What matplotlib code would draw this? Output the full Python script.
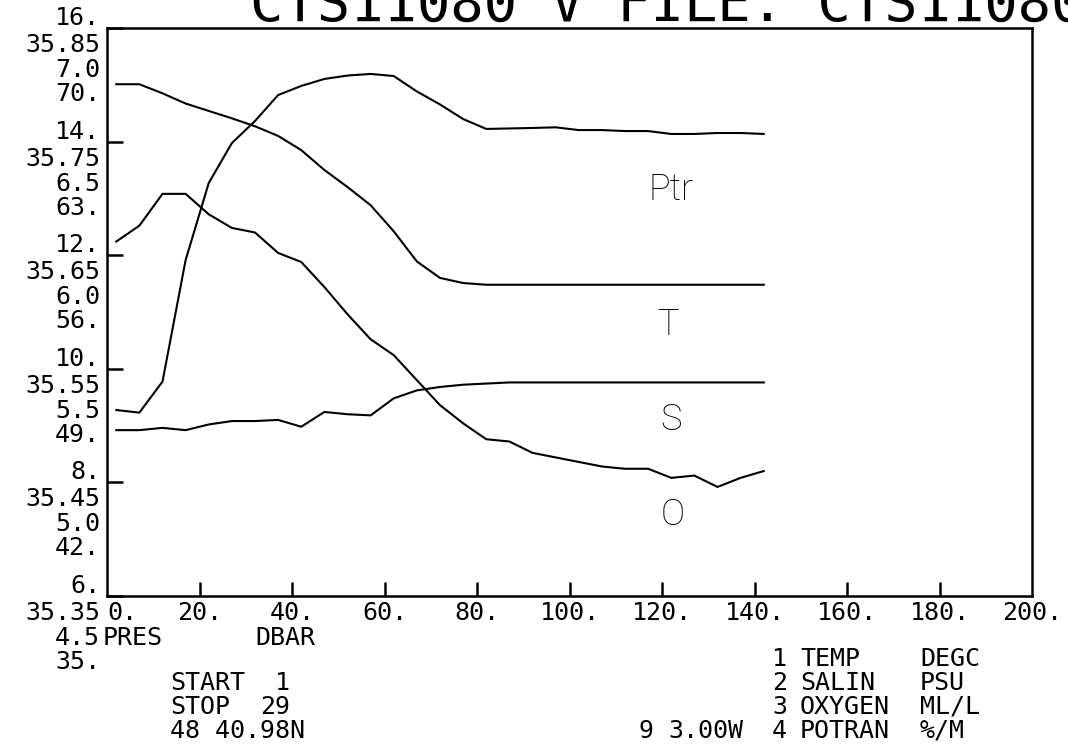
import matplotlib
matplotlib.use("Agg")
import matplotlib.pyplot as plt

W, H = 1068, 747
DPI = 100
MONO = "DejaVu Sans Mono"

# CTD cast, samples every 5 dbar
pres = [2, 7, 12, 17, 22, 27, 32, 37, 42, 47, 52, 57, 62, 67, 72,
        77, 82, 87, 92, 97, 102, 107, 112, 117, 122, 127, 132, 137, 142]
temp = [15.01, 15.01, 14.85, 14.67, 14.54, 14.41, 14.27, 14.10, 13.85, 13.50,
        13.20, 12.88, 12.42, 11.89, 11.60, 11.51, 11.48, 11.48, 11.48, 11.48,
        11.48, 11.48, 11.48, 11.48, 11.48, 11.48, 11.48, 11.48, 11.48]
salin = [35.496, 35.496, 35.498, 35.496, 35.501, 35.504, 35.504, 35.505, 35.499, 35.512,
         35.510, 35.509, 35.524, 35.531, 35.534, 35.536, 35.537, 35.538, 35.538, 35.538,
         35.538, 35.538, 35.538, 35.538, 35.538, 35.538, 35.538, 35.538, 35.538]
oxygen = [6.06, 6.13, 6.27, 6.27, 6.18, 6.12, 6.10, 6.01, 5.97, 5.86,
          5.74, 5.63, 5.56, 5.45, 5.34, 5.26, 5.19, 5.18, 5.13, 5.11,
          5.09, 5.07, 5.06, 5.06, 5.02, 5.03, 4.98, 5.02, 5.05]
potran = [46.46, 46.30, 48.21, 55.70, 60.45, 62.91, 64.27, 65.87, 66.43, 66.86,
          67.07, 67.17, 67.04, 66.09, 65.29, 64.39, 63.78, 63.81, 63.84, 63.88,
          63.71, 63.71, 63.65, 63.65, 63.47, 63.47, 63.53, 63.53, 63.47]

# axis ranges and the stacked scale labels at each major tick
t_ticks = [6, 8, 10, 12, 14, 16]
t_labels = ["6.", "8.", "10.", "12.", "14.", "16."]
s_labels = ["35.35", "35.45", "35.55", "35.65", "35.75", "35.85"]
o_labels = ["4.5", "5.0", "5.5", "6.0", "6.5", "7.0"]
p_labels = ["35.", "42.", "49.", "56.", "63.", "70."]
x_ticks = [20, 40, 60, 80, 100, 120, 140, 160, 180]
x_labels = ["0.", "20.", "40.", "60.", "80.", "100.", "120.", "140.", "160.", "180.", "200."]
x_label_pos = [0, 20, 40, 60, 80, 100, 120, 140, 160, 180, 200]


def fx(px):
    return px / W


def fy(py):
    return 1 - py / H


fig = plt.figure(figsize=(W / DPI, H / DPI), dpi=DPI)
ax = fig.add_axes([fx(107), fy(596), fx(1032) - fx(107), fy(28) - fy(596)])
ax.set_xlim(0, 200)
ax.set_ylim(6, 16)
for sp in ax.spines.values():
    sp.set_linewidth(1.8)
ax.set_xticks(x_ticks)
ax.set_yticks(t_ticks)
ax.set_xticklabels([])
ax.set_yticklabels([])
ax.tick_params(axis="y", direction="in", length=11.5, width=1.8, left=True, right=False)
ax.tick_params(axis="x", direction="in", length=10, width=1.8, bottom=True, top=False)


def overlay(lo, hi):
    a = ax.twinx()
    a.set_ylim(lo, hi)
    a.set_axis_off()
    return a


ax_s = overlay(35.35, 35.85)
ax_o = overlay(4.5, 7.0)
ax_p = overlay(35.0, 70.0)

lw = 1.5
ax.plot(pres, temp, color="black", lw=lw)
ax_s.plot(pres, salin, color="black", lw=lw)
ax_o.plot(pres, oxygen, color="black", lw=lw)
ax_p.plot(pres, potran, color="black", lw=lw)

# curve names
lab_kw = dict(fontsize=26, family="Roboto", fontweight="light", ha="center", va="center")
ax_p.text(122, 60.0, "Ptr", **lab_kw)
ax.text(121.5, 10.77, "T", **lab_kw)
ax_s.text(122, 35.505, "S", **lab_kw)
ax_o.text(122.3, 4.857, "O", **lab_kw)

# stacked scale labels left of the frame
fs = 18
offsets = [10, -17, -42, -66]
for i, t in enumerate(t_ticks):
    for dy, labs in zip(offsets, [t_labels, s_labels, o_labels, p_labels]):
        ax.annotate(labs[i], xy=(0, t), xycoords=("axes fraction", "data"),
                    xytext=(-7, dy), textcoords="offset pixels",
                    ha="right", va="center", fontsize=fs, family=MONO)

# pressure labels along the bottom
for xv, s in zip(x_label_pos, x_labels):
    ax.annotate(s, xy=(xv, 0), xycoords=("data", "axes fraction"),
                xytext=(0, -17), textcoords="offset pixels",
                ha="left" if xv == 0 else "center", va="center",
                fontsize=fs, family=MONO)

txt = dict(fontsize=fs, family=MONO, va="center", ha="left")
fig.text(fx(103), fy(638), "PRES", **txt)
fig.text(fx(255), fy(638), "DBAR", **txt)
fig.text(fx(170), fy(683), "START", **txt)
fig.text(fx(290), fy(683), "1", fontsize=fs, family=MONO, va="center", ha="right")
fig.text(fx(170), fy(707), "STOP", **txt)
fig.text(fx(290), fy(707), "29", fontsize=fs, family=MONO, va="center", ha="right")
fig.text(fx(170), fy(731), "48 40.98N", **txt)
fig.text(fx(638), fy(731), "9", **txt)
fig.text(fx(668), fy(731), "3.00W", **txt)

var_num = ["1", "2", "3", "4"]
var_name = ["TEMP", "SALIN", "OXYGEN", "POTRAN"]
var_unit = ["DEGC", "PSU", "ML/L", "%/M"]
for k, (n, name, unit) in enumerate(zip(var_num, var_name, var_unit)):
    y = 659 + 24 * k
    fig.text(fx(772), fy(y), n, **txt)
    fig.text(fx(800), fy(y), name, **txt)
    fig.text(fx(920), fy(y), unit, **txt)

# header runs off the top of the sheet
fig.text(fx(250), fy(21), "CTS11080 V FILE: CTS11080", fontsize=40, family=MONO,
         ha="left", va="baseline")

fig.savefig("out.png", dpi=DPI)
